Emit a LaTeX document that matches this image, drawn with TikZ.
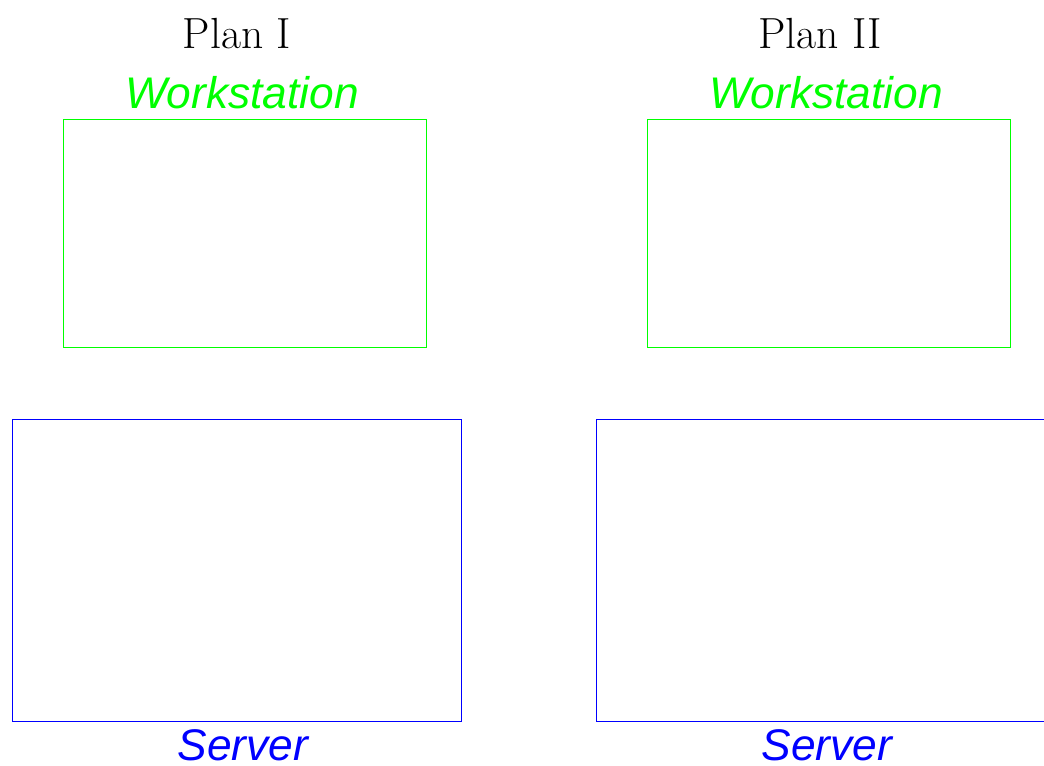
\documentclass[tikz,border=0pt]{standalone}
\usepackage{fontspec}
\newfontfamily\labelfont{Liberation Sans}
\usetikzlibrary{positioning}
\definecolor{WsGreen}{RGB}{0,255,0}
\definecolor{SrvBlue}{RGB}{0,0,255}
\tikzset{
  wsbox/.style  = {draw=WsGreen, line width=0.6pt, inner sep=0pt,
                   minimum width=9.075cm, minimum height=5.7cm},
  srvbox/.style = {draw=SrvBlue, line width=0.6pt, inner sep=0pt,
                   minimum width=11.225cm, minimum height=7.55cm},
  plantitle/.style = {anchor=base, font=\fontsize{31}{36}\selectfont},
  wslabel/.style   = {anchor=base, text=WsGreen,
                      font=\labelfont\itshape\fontsize{31.5}{36}\selectfont},
  srvlabel/.style  = {anchor=base, text=SrvBlue, inner sep=1pt, text depth=0pt,
                      font=\labelfont\itshape\fontsize{31.5}{36}\selectfont}
}
\begin{document}
\begin{tikzpicture}[x=0.025cm, y=-0.025cm]
\useasboundingbox (0,0) rectangle (1044,765);

% plan I
\node[plantitle] (p1) at (237,48) {Plan I};
\node[wslabel] (w1lab) at (242,108) {Workstation};
\node[wsbox] (w1) at (244.5,233) {};
\node[srvbox] (s1) at (236.5,570) {};
\node[srvlabel] (s1lab) at (243,760) {Server};

% plan II
\node[plantitle] (p2) at (820,48) {Plan II};
\node[wslabel] (w2lab) at (826,108) {Workstation};
\node[wsbox] (w2) at (828.5,233) {};
\node[srvbox] (s2) at (820.5,570) {};
\node[srvlabel] (s2lab) at (827,760) {Server};
\end{tikzpicture}
\end{document}
